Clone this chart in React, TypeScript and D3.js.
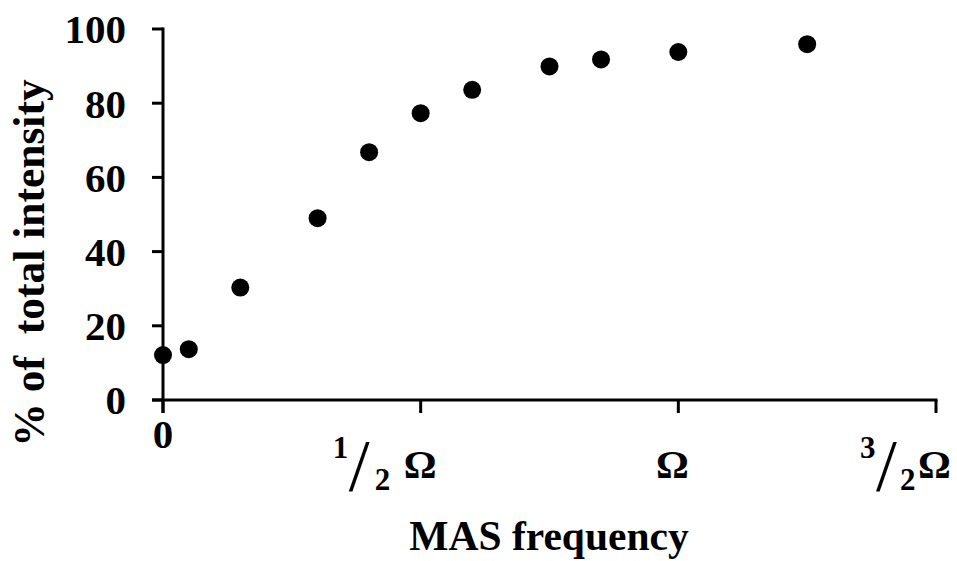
import React from "react";
import * as d3 from "d3";

const freq = [0, 0.05, 0.15, 0.3, 0.4, 0.5, 0.6, 0.75, 0.85, 1.0, 1.25];
const intensity = [12.1, 13.7, 30.3, 49.0, 66.8, 77.3, 83.6, 89.9, 91.8, 93.8, 95.9];
const yTicks = [0, 20, 40, 60, 80, 100];
const xTicks = [0, 0.5, 1, 1.5];
const xTickLabels = ["0", "1/2 Ω", "Ω", "3/2Ω"];
const yTitle = "% of  total intensity";
const xTitle = "MAS frequency";

const W = 957;
const H = 561;
const FONT = "'Liberation Serif', 'Times New Roman', serif";

export default function App() {
  const x = d3.scaleLinear().domain([0, 1.5]).range([163, 936]);
  const y = d3.scaleLinear().domain([0, 100]).range([400, 29]);
  const stroke = 3;

  const renderXLabel = (label: string, v: number, i: number) => {
    const cx = x(v);
    if (label === "0") {
      return (
        <text key={i} x={cx} y={448} textAnchor="middle" fontSize={41} fontWeight="bold" fontFamily={FONT}>
          {label}
        </text>
      );
    }
    const m = label.match(/^(\d)\/(\d)(\s?)Ω$/);
    if (!m) {
      return (
        <text key={i} x={cx - 6} y={478} textAnchor="middle" fontSize={41} fontWeight="bold" fontFamily={FONT}>
          {label}
        </text>
      );
    }
    const spaced = m[3] === " ";
    const omegaX = spaced ? cx - 17 : cx - 18;
    const base = spaced ? cx - 88 : cx - 76;
    return (
      <g key={i} fontFamily={FONT} fontWeight="bold">
        <text x={base} y={458} fontSize={31}>{m[1]}</text>
        <text x={base + 16} y={491} fontSize={75} fontWeight="normal">/</text>
        <text x={spaced ? base + 42 : base + 40} y={490} fontSize={31}>{m[2]}</text>
        <text x={omegaX} y={478} fontSize={41}>Ω</text>
      </g>
    );
  };

  return (
    <svg width={W} height={H} style={{ position: "absolute", left: 0, top: 0, background: "#fff" }}>
      <rect width={W} height={H} fill="#fff" />
      {/* y axis */}
      <line x1={x(0)} x2={x(0)} y1={y(100) - stroke / 2} y2={y(0) + 13} stroke="#000" strokeWidth={stroke} />
      {yTicks.map((t) => (
        <line key={"yt" + t} x1={x(0) - 11} x2={x(0)} y1={y(t)} y2={y(t)} stroke="#000" strokeWidth={stroke} />
      ))}
      {/* x axis */}
      <line x1={x(0) - 11} x2={x(1.5) + stroke / 2} y1={y(0)} y2={y(0)} stroke="#000" strokeWidth={stroke} />
      {xTicks.map((t) => (
        <line key={"xt" + t} x1={x(t)} x2={x(t)} y1={y(0)} y2={y(0) + 13} stroke="#000" strokeWidth={stroke} />
      ))}
      {/* y tick labels */}
      {yTicks.map((t) => (
        <text
          key={"yl" + t}
          x={126}
          y={y(t)}
          dy="0.35em"
          textAnchor="end"
          fontSize={41}
          fontWeight="bold"
          fontFamily={FONT}
        >
          {t}
        </text>
      ))}
      {/* x tick labels */}
      {xTickLabels.map((l, i) => renderXLabel(l, xTicks[i], i))}
      {/* points */}
      {freq.map((f, i) => (
        <circle key={"p" + i} cx={x(f)} cy={y(intensity[i])} r={9} fill="#000" />
      ))}
      {/* titles */}
      <text
        x={549}
        y={550}
        textAnchor="middle"
        fontSize={41.5}
        fontWeight="bold"
        fontFamily={FONT}
      >
        {xTitle}
      </text>
      <text
        transform={`translate(44, 263) rotate(-90)`}
        textAnchor="middle"
        fontSize={43.5}
        fontWeight="bold"
        fontFamily={FONT}
        style={{ whiteSpace: "pre" }}
      >
        {yTitle}
      </text>
    </svg>
  );
}
